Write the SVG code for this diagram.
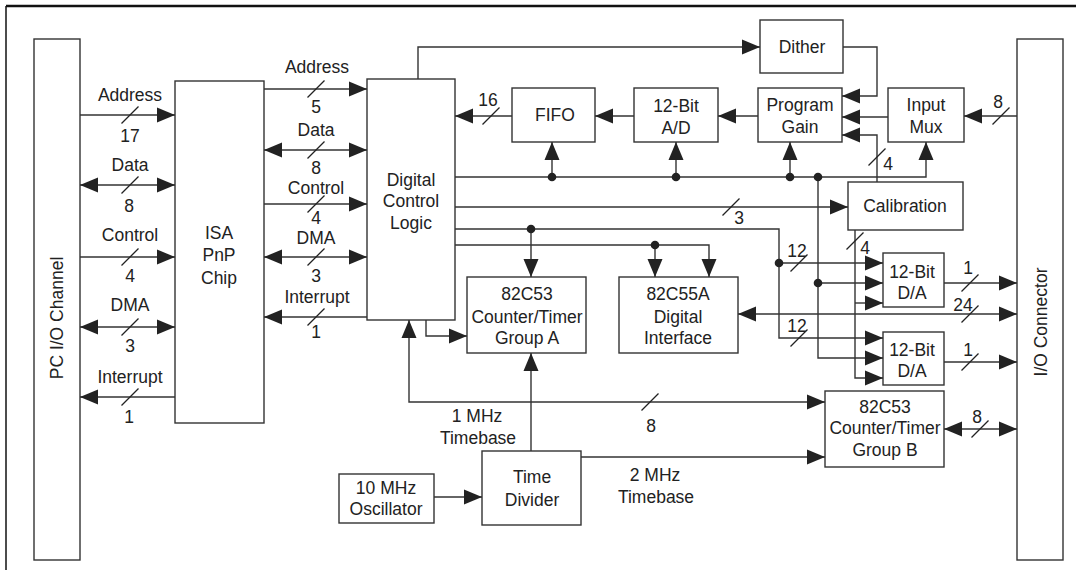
<svg xmlns="http://www.w3.org/2000/svg" xmlns:xlink="http://www.w3.org/1999/xlink" width="1076" height="570" viewBox="0 0 1076 570">
<style>
.box{fill:#fff;stroke:#333;stroke-width:1.4}
.ln{fill:none;stroke:#333;stroke-width:1.4}
.ae{marker-end:url(#ah)}
.ab{marker-start:url(#ah);marker-end:url(#ah)}
.sl{stroke:#222;stroke-width:1.3}
.dot{fill:#222}
text{font-family:"Liberation Sans",Arial,sans-serif;font-size:17.5px;fill:#222;text-anchor:middle}
</style>
<defs>
<marker id="ah" markerUnits="userSpaceOnUse" markerWidth="18" markerHeight="16" refX="18" refY="7.5" orient="auto-start-reverse" viewBox="0 0 18 15">
<path d="M0,0 L18,7.5 L0,15 z" fill="#222"/>
</marker>
<path id="sl" d="M-8.5,8.5 L8.5,-8.5"/>
<circle id="dt" r="4.3"/>
</defs>
<g id="frame">
<path d="M6,6 H1076" stroke="#111" stroke-width="2.6" fill="none"/>
<path d="M6,6 V570" stroke="#111" stroke-width="1.5" fill="none"/>
</g>
<g id="pc-io-channel">
<rect class="box" x="34" y="39" width="46" height="521"/>
<text transform="translate(63,318) rotate(-90)">PC I/O Channel</text>
</g>
<g id="isa-pnp-chip">
<rect class="box" x="175" y="81" width="89" height="342"/>
<text x="219" y="239">ISA</text>
<text x="219" y="261">PnP</text>
<text x="219" y="284">Chip</text>
</g>
<g id="digital-control-logic">
<rect class="box" x="367" y="79" width="88" height="241"/>
<text x="411" y="186">Digital</text>
<text x="411" y="207">Control</text>
<text x="411" y="229">Logic</text>
</g>
<g id="dither">
<rect class="box" x="760" y="20" width="83" height="53"/>
<text x="802" y="53">Dither</text>
</g>
<g id="fifo">
<rect class="box" x="512" y="88" width="83" height="54"/>
<text x="555" y="121">FIFO</text>
</g>
<g id="ad">
<rect class="box" x="634" y="88" width="84" height="54"/>
<text x="676" y="112">12-Bit</text>
<text x="676" y="134">A/D</text>
</g>
<g id="program-gain">
<rect class="box" x="758" y="88" width="84" height="54"/>
<text x="800" y="111">Program</text>
<text x="800" y="133">Gain</text>
</g>
<g id="input-mux">
<rect class="box" x="888" y="88" width="76" height="54"/>
<text x="926" y="111">Input</text>
<text x="926" y="133">Mux</text>
</g>
<g id="calibration">
<rect class="box" x="848" y="182" width="115" height="48"/>
<text x="905" y="212">Calibration</text>
</g>
<g id="counter-a">
<rect class="box" x="467" y="277" width="119" height="76"/>
<text x="527" y="300">82C53</text>
<text x="527" y="323">Counter/Timer</text>
<text x="527" y="344">Group A</text>
</g>
<g id="digital-interface">
<rect class="box" x="619" y="277" width="119" height="76"/>
<text x="678" y="300">82C55A</text>
<text x="678" y="323">Digital</text>
<text x="678" y="344">Interface</text>
</g>
<g id="da1">
<rect class="box" x="883" y="253" width="61" height="54"/>
<text x="912" y="278">12-Bit</text>
<text x="912" y="299">D/A</text>
</g>
<g id="da2">
<rect class="box" x="883" y="332" width="61" height="53"/>
<text x="912" y="356">12-Bit</text>
<text x="912" y="377">D/A</text>
</g>
<g id="counter-b">
<rect class="box" x="825" y="391" width="119" height="76"/>
<text x="885" y="413">82C53</text>
<text x="885" y="434">Counter/Timer</text>
<text x="885" y="456">Group B</text>
</g>
<g id="time-divider">
<rect class="box" x="482" y="451" width="99" height="74"/>
<text x="532" y="483">Time</text>
<text x="532" y="506">Divider</text>
</g>
<g id="oscillator">
<rect class="box" x="339" y="474" width="95" height="49"/>
<text x="386" y="494">10 MHz</text>
<text x="386" y="515">Oscillator</text>
</g>
<g id="io-connector">
<rect class="box" x="1017" y="39" width="46" height="521"/>
<text transform="translate(1047,322) rotate(-90)">I/O Connector</text>
</g>
<g id="connectors">
<path class="ln ae" d="M80,115 H175"/>
<path class="ln ab" d="M80,185 H175"/>
<path class="ln ae" d="M80,257 H175"/>
<path class="ln ab" d="M80,327 H175"/>
<path class="ln ae" d="M175,397 H80"/>
<path class="ln ae" d="M264,89 H367"/>
<path class="ln ab" d="M264,150 H367"/>
<path class="ln ae" d="M264,204 H367"/>
<path class="ln ab" d="M264,257 H367"/>
<path class="ln ae" d="M367,317 H264"/>
<path class="ln ae" d="M418,79 V47 H760"/>
<path class="ln ae" d="M843,47 H877 V96 H842"/>
<path class="ln ae" d="M888,117 H842"/>
<path class="ln ae" d="M877,182 V135 H842"/>
<path class="ln ae" d="M1017,116 H964"/>
<path class="ln ae" d="M758,116 H718"/>
<path class="ln ae" d="M634,116 H595"/>
<path class="ln ae" d="M512,116 H455"/>
<path class="ln ae" d="M455,177 H926 V142"/>
<path class="ln ae" d="M552,177 V142"/>
<path class="ln ae" d="M676,177 V142"/>
<path class="ln ae" d="M790,177 V142"/>
<path class="ln ae" d="M818,177 V358 H883"/>
<path class="ln ae" d="M818,283 H883"/>
<path class="ln ae" d="M455,207 H848"/>
<path class="ln ae" d="M855,230 V378 H883"/>
<path class="ln ae" d="M855,303 H883"/>
<path class="ln ae" d="M455,229 H779 V338 H883"/>
<path class="ln ae" d="M531,229 V277"/>
<path class="ln ae" d="M779,263 H883"/>
<path class="ln ae" d="M455,245 H709 V277"/>
<path class="ln ae" d="M655,245 V277"/>
<path class="ln ae" d="M944,283 H1017"/>
<path class="ln ab" d="M738,314 H1017"/>
<path class="ln ae" d="M944,362 H1017"/>
<path class="ln ab" d="M944,429 H1017"/>
<path class="ln ae" d="M426,320 V336 H467"/>
<path class="ln ab" d="M409,320 V402 H825"/>
<path class="ln ae" d="M531,451 V353"/>
<path class="ln ae" d="M434,497 H482"/>
<path class="ln ae" d="M581,457 H825"/>
<g class="dot">
<use href="#dt" x="552" y="177"/>
<use href="#dt" x="676" y="177"/>
<use href="#dt" x="790" y="177"/>
<use href="#dt" x="818" y="177"/>
<use href="#dt" x="531" y="229"/>
<use href="#dt" x="655" y="245"/>
<use href="#dt" x="779" y="263"/>
<use href="#dt" x="818" y="283"/>
</g>
<g class="sl">
<use href="#sl" x="130" y="115"/>
<use href="#sl" x="130" y="185"/>
<use href="#sl" x="130" y="257"/>
<use href="#sl" x="130" y="327"/>
<use href="#sl" x="130" y="397"/>
<use href="#sl" x="316" y="89"/>
<use href="#sl" x="316" y="150"/>
<use href="#sl" x="316" y="204"/>
<use href="#sl" x="316" y="257"/>
<use href="#sl" x="316" y="317"/>
<use href="#sl" x="491" y="116"/>
<use href="#sl" x="1001" y="116"/>
<use href="#sl" x="877" y="157"/>
<use href="#sl" x="731" y="207"/>
<use href="#sl" x="855" y="241"/>
<use href="#sl" x="799" y="263"/>
<use href="#sl" x="799" y="338"/>
<use href="#sl" x="970" y="283"/>
<use href="#sl" x="970" y="314"/>
<use href="#sl" x="970" y="362"/>
<use href="#sl" x="980" y="429"/>
<use href="#sl" x="650" y="402"/>
</g>
<g id="labels">
<text x="130" y="101">Address</text>
<text x="130" y="142">17</text>
<text x="130" y="171">Data</text>
<text x="129" y="212">8</text>
<text x="130" y="241">Control</text>
<text x="130" y="282">4</text>
<text x="130" y="311">DMA</text>
<text x="130" y="352">3</text>
<text x="130" y="383">Interrupt</text>
<text x="129" y="423">1</text>
<text x="317" y="73">Address</text>
<text x="316" y="113">5</text>
<text x="316" y="136">Data</text>
<text x="316" y="174">8</text>
<text x="316" y="194">Control</text>
<text x="316" y="224">4</text>
<text x="316" y="244">DMA</text>
<text x="316" y="282">3</text>
<text x="317" y="303">Interrupt</text>
<text x="316" y="338">1</text>
<text x="488" y="106">16</text>
<text x="998" y="108">8</text>
<text x="888" y="170">4</text>
<text x="739" y="224">3</text>
<text x="865" y="254">4</text>
<text x="797" y="257">12</text>
<text x="797" y="332">12</text>
<text x="968" y="274">1</text>
<text x="963" y="311">24</text>
<text x="968" y="356">1</text>
<text x="977" y="423">8</text>
<text x="651" y="432">8</text>
<text x="477" y="422">1 MHz</text>
<text x="478" y="444">Timebase</text>
<text x="655" y="481">2 MHz</text>
<text x="656" y="503">Timebase</text>
</g>
</g>
</svg>
